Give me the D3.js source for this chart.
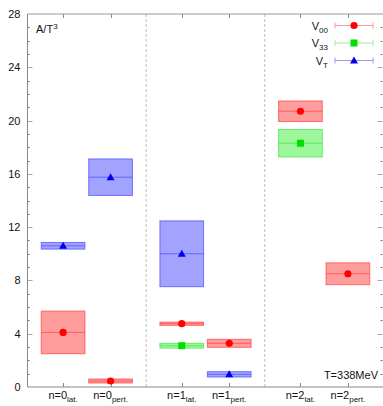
<!DOCTYPE html>
<html>
<head>
<meta charset="utf-8">
<script src="https://cdn.jsdelivr.net/npm/d3@7/dist/d3.min.js"></script>
<style>
  html, body { margin: 0; padding: 0; background: #fff; }
  svg { display: block; font-family: "Liberation Sans", Arial, sans-serif; }
</style>
</head>
<body>
<svg id="chart" width="383" height="406"></svg>
<script>
// Category labels (base + subscript) and their positions on the x axis
const catBase = ["n=0", "n=0", "n=1", "n=1", "n=2", "n=2"];
const catSub = ["lat.", "pert.", "lat.", "pert.", "lat.", "pert."];
const catPos = [1, 2, 3.5, 4.5, 6, 7];
const separators = [2.75, 5.25];

// Series values and their uncertainties (null = not present)
const v00Values = [4.1, 0.45, 4.75, 3.28, 20.7, 8.5];
const v00Errors = [1.6, 0.15, 0.12, 0.3, 0.77, 0.82];
const v33Values = [null, null, 3.1, null, 18.3, null];
const v33Errors = [null, null, 0.18, null, 1.03, null];
const vTValues = [10.6, 15.75, 10.0, 0.95, null, null];
const vTErrors = [0.25, 1.37, 2.47, 0.2, null, null];

const yTicks = [0, 4, 8, 12, 16, 20, 24, 28];

const series = [
  { base: "V", sub: "00", values: v00Values, errors: v00Errors, marker: "circle",
    color: "#ff0000", fill: "rgba(255,60,60,0.5)", edge: "rgba(255,70,70,0.75)", line: "#ff9a9a" },
  { base: "V", sub: "33", values: v33Values, errors: v33Errors, marker: "square",
    color: "#00e000", fill: "rgba(60,240,60,0.5)", edge: "rgba(70,230,70,0.75)", line: "#9af09a" },
  { base: "V", sub: "T", values: vTValues, errors: vTErrors, marker: "triangle",
    color: "#0000ee", fill: "rgba(70,70,255,0.5)", edge: "rgba(80,80,255,0.75)", line: "#9a9af5" }
];

const svg = d3.select("#chart");
const plotLeft = 27.5, plotRight = 383.5, plotTop = 14, plotBottom = 387;

const x = d3.scaleLinear().domain([0.25, 7.75]).range([plotLeft, plotRight]);
const y = d3.scaleLinear().domain([0, 28]).range([plotBottom, plotTop]);
const boxHalf = 0.46;

// Separators between the n groups
svg.selectAll("line.sep").data(separators).join("line")
  .attr("class", "sep")
  .attr("x1", d => x(d)).attr("x2", d => x(d))
  .attr("y1", plotTop).attr("y2", plotBottom)
  .attr("stroke", "#bbb").attr("stroke-width", 1).attr("stroke-dasharray", "3,2");

// Frame: left, bottom, top
svg.append("line").attr("x1", plotLeft).attr("x2", plotLeft).attr("y1", plotTop).attr("y2", plotBottom)
  .attr("stroke", "#888");
svg.append("line").attr("x1", plotLeft).attr("x2", plotRight).attr("y1", plotBottom).attr("y2", plotBottom)
  .attr("stroke", "#888");
svg.append("line").attr("x1", plotLeft).attr("x2", plotRight).attr("y1", plotTop).attr("y2", plotTop)
  .attr("stroke", "#999");

// Y ticks: minor every unit, major every 4 (both sides, pointing inward)
const minor = d3.range(0, 29).filter(v => v % 4 !== 0);
[plotLeft, plotRight - 1].forEach((x0, i) => {
  const dir = i === 0 ? 1 : -1;
  svg.selectAll(null).data(minor).join("line")
    .attr("x1", x0).attr("x2", x0 + dir * 2)
    .attr("y1", d => Math.round(y(d)) + 0.5).attr("y2", d => Math.round(y(d)) + 0.5)
    .attr("stroke", "#777");
  svg.selectAll(null).data(yTicks.filter(v => v > 0 && v < 28)).join("line")
    .attr("x1", x0).attr("x2", x0 + dir * 5)
    .attr("y1", d => Math.round(y(d)) + 0.5).attr("y2", d => Math.round(y(d)) + 0.5)
    .attr("stroke", "#aaa");
});

// Y axis labels
const yAxis = d3.axisLeft(y).tickValues(yTicks).tickSize(0).tickPadding(7);
const gy = svg.append("g").attr("transform", `translate(${plotLeft},0)`).call(yAxis);
gy.select(".domain").remove();
gy.selectAll("text").attr("font-size", 11).attr("fill", "#111")
  .attr("font-family", "Liberation Sans, Arial, sans-serif");

// X ticks (bottom and top, pointing inward)
svg.selectAll(null).data(catPos).join("line")
  .attr("x1", d => Math.round(x(d)) + 0.5).attr("x2", d => Math.round(x(d)) + 0.5)
  .attr("y1", plotBottom).attr("y2", plotBottom - 4).attr("stroke", "#888");
svg.selectAll(null).data(catPos).join("line")
  .attr("x1", d => Math.round(x(d)) + 0.5).attr("x2", d => Math.round(x(d)) + 0.5)
  .attr("y1", plotTop).attr("y2", plotTop + 4).attr("stroke", "#888");

// X category labels with subscripts
const xl = svg.selectAll("text.xl").data(catPos).join("text")
  .attr("class", "xl")
  .attr("x", d => x(d)).attr("y", 398.5)
  .attr("text-anchor", "middle").attr("font-size", 11).attr("fill", "#111");
xl.append("tspan").text((d, i) => catBase[i]);
xl.append("tspan").attr("font-size", 8).attr("dy", 3).text((d, i) => catSub[i]);

// Boxes, centre lines and markers
function drawMarker(g, type, cx, cy, color) {
  if (type === "circle") {
    g.append("circle").attr("cx", cx).attr("cy", cy).attr("r", 3.6).attr("fill", color);
  } else if (type === "square") {
    g.append("rect").attr("x", cx - 3.5).attr("y", cy - 3.5).attr("width", 7).attr("height", 7)
      .attr("fill", color);
  } else {
    g.append("path").attr("d", `M${cx},${cy - 4}L${cx + 4},${cy + 3}L${cx - 4},${cy + 3}Z`)
      .attr("fill", color);
  }
}

series.forEach(s => {
  const g = svg.append("g");
  s.values.forEach((v, i) => {
    if (v === null) return;
    const e = s.errors[i];
    const x0 = x(catPos[i] - boxHalf), x1 = x(catPos[i] + boxHalf);
    const yt = y(v + e), yb = y(v - e);
    g.append("rect").attr("x", x0).attr("y", yt)
      .attr("width", x1 - x0).attr("height", Math.max(yb - yt, 1))
      .attr("fill", s.fill).attr("stroke", s.edge).attr("stroke-width", 1);
    g.append("line").attr("x1", x0).attr("x2", x1).attr("y1", y(v)).attr("y2", y(v))
      .attr("stroke", s.edge).attr("stroke-width", 1);
    drawMarker(g, s.marker, x(catPos[i]), y(v), s.color);
  });
});

// Legend
const legY = [25.5, 43, 60.5];
series.forEach((s, i) => {
  const g = svg.append("g");
  const ly = legY[i];
  const t = g.append("text").attr("x", 328).attr("y", ly + 4)
    .attr("text-anchor", "end").attr("font-size", 11).attr("fill", "#111");
  t.append("tspan").text(s.base);
  t.append("tspan").attr("font-size", 8).attr("dy", 3).text(s.sub);
  g.append("line").attr("x1", 335).attr("x2", 373).attr("y1", ly).attr("y2", ly)
    .attr("stroke", s.line);
  [335, 373].forEach(cx => g.append("line").attr("x1", cx).attr("x2", cx)
    .attr("y1", ly - 3).attr("y2", ly + 3).attr("stroke", s.line));
  drawMarker(g, s.marker, 354, ly, s.color);
});

// Axis title and temperature note
const at = svg.append("text").attr("x", 36).attr("y", 33).attr("font-size", 11).attr("fill", "#111");
at.append("tspan").text("A/T");
at.append("tspan").attr("font-size", 8).attr("dy", -4).text("3");

svg.append("text").attr("x", 378).attr("y", 379).attr("text-anchor", "end")
  .attr("font-size", 11).attr("fill", "#111").text("T=338MeV");
</script>
</body>
</html>
